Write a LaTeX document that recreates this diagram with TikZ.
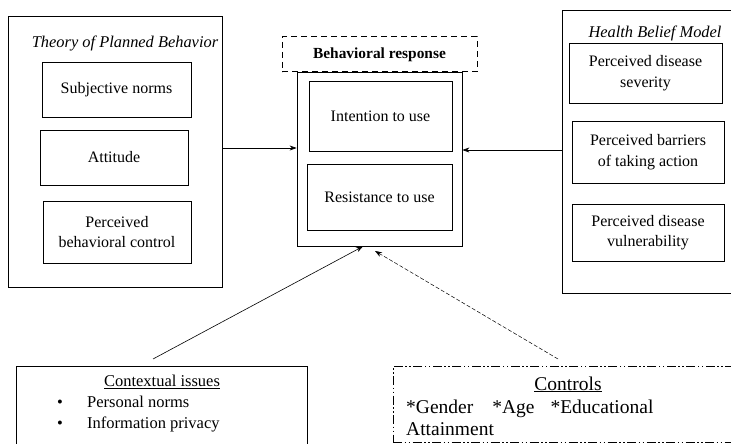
\documentclass[tikz,border=0pt]{standalone}
\usepackage{fontspec}
\setmainfont{Liberation Serif}
\usetikzlibrary{arrows.meta}
\begin{document}
\begin{tikzpicture}[x=1pt,y=-1pt,
  box/.style={draw, line width=0.8pt, inner sep=0pt, align=center, font=\fontsize{16}{20.5}\selectfont},
  frame/.style={draw, line width=0.8pt, inner sep=0pt},
  ttl/.style={inner sep=0pt, font=\fontsize{16.4}{20}\selectfont\itshape},
  txt/.style={inner sep=0pt, font=\fontsize{16.5}{20}\selectfont},
  ctl/.style={inner sep=0pt, font=\fontsize{19.5}{23}\selectfont},
  arr/.style={-{Stealth[length=7pt,width=5pt]}, line width=0.6pt},
  darr/.style={-{Stealth[length=7pt,width=5pt]}, line width=0.5pt, dash pattern=on 4pt off 2pt}]
\useasboundingbox (0,0) rectangle (731,444);

% Theory of Planned Behavior
\node[frame, minimum width=214pt, minimum height=271pt] (tpb) at (115,151.5) {};
\node[ttl] (tpbt) at (125,43) {Theory of Planned Behavior};
\node[box, minimum width=149pt, minimum height=55pt] (sn) at (116.5,89.5) {Subjective norms};
\node[box, minimum width=148pt, minimum height=55pt] (att) at (114,157.5) {Attitude};
\node[box, minimum width=148pt, minimum height=62pt] (pbc) at (117,232) {Perceived\\behavioral control};

% Behavioral response
\node[frame, minimum width=165pt, minimum height=174pt] (beh) at (379.5,159) {};
\node[draw, line width=1pt, dash pattern=on 6pt off 4pt, fill=white, minimum width=195pt, minimum height=35pt, inner sep=0pt,
      font=\fontsize{15.4}{18}\selectfont\bfseries] (behr) at (379.5,54.5) {Behavioral response};
\node[box, minimum width=143pt, minimum height=70pt] (int) at (380.5,116) {Intention to use};
\node[box, minimum width=145pt, minimum height=66pt] (res) at (379.5,197) {Resistance to use};

% Health Belief Model
\node[frame, minimum width=178pt, minimum height=283pt] (hbm) at (651,151.5) {};
\node[ttl] (hbmt) at (655,33) {Health Belief Model};
\node[box, minimum width=153pt, minimum height=60pt] (sev) at (645.5,73) {Perceived disease\\severity};
\node[box, minimum width=152pt, minimum height=62pt] (bar) at (648,152) {Perceived barriers\\of taking action};
\node[box, minimum width=152pt, minimum height=57pt] (vul) at (648,232.5) {Perceived disease\\vulnerability};

% Contextual issues
\node[frame, minimum width=291pt, minimum height=84pt] (ctx) at (161.5,408) {};
\node[txt, anchor=base] (ctxt) at (162,386.7) {\underline{Contextual issues}};
\node[txt, anchor=base] (b1) at (60,407.7) {•};
\node[txt, anchor=base west] (pn) at (87,407.7) {Personal norms};
\node[txt, anchor=base] (b2) at (60,428) {•};
\node[txt, anchor=base west] (ip) at (87,428) {Information privacy};

% Controls
\node[draw, line width=0.7pt, dash pattern=on 9pt off 2.5pt on 1.5pt off 2.5pt on 1.5pt off 2.5pt,
      minimum width=347pt, minimum height=76pt, inner sep=0pt] (ctr) at (566.5,404) {};
\node[ctl, anchor=base] (ctrt) at (568,390) {\underline{Controls}};
\node[ctl, anchor=base west] (ctr1) at (406,413.5) {*Gender\hspace{19pt}*Age\hspace{16pt}*Educational};
\node[ctl, anchor=base west] (ctr2) at (406,435.7) {Attainment};

% Connectors
\coordinate (lrow) at (0,148);
\coordinate (rrow) at (0,150);
\draw[arr] (tpb.east |- lrow) -- (beh.west |- lrow);
\draw[arr] (hbm.west |- rrow) -- (beh.east |- rrow);
\coordinate (ctxstart) at (153,359);
\coordinate (cx) at (363,0);
\draw[arr] (ctxstart) -- (beh.south -| cx);
\coordinate (ctrstart) at (558,359);
\coordinate (ctrend) at (375,251);
\draw[darr] (ctrstart) -- (ctrend);
\end{tikzpicture}
\end{document}
